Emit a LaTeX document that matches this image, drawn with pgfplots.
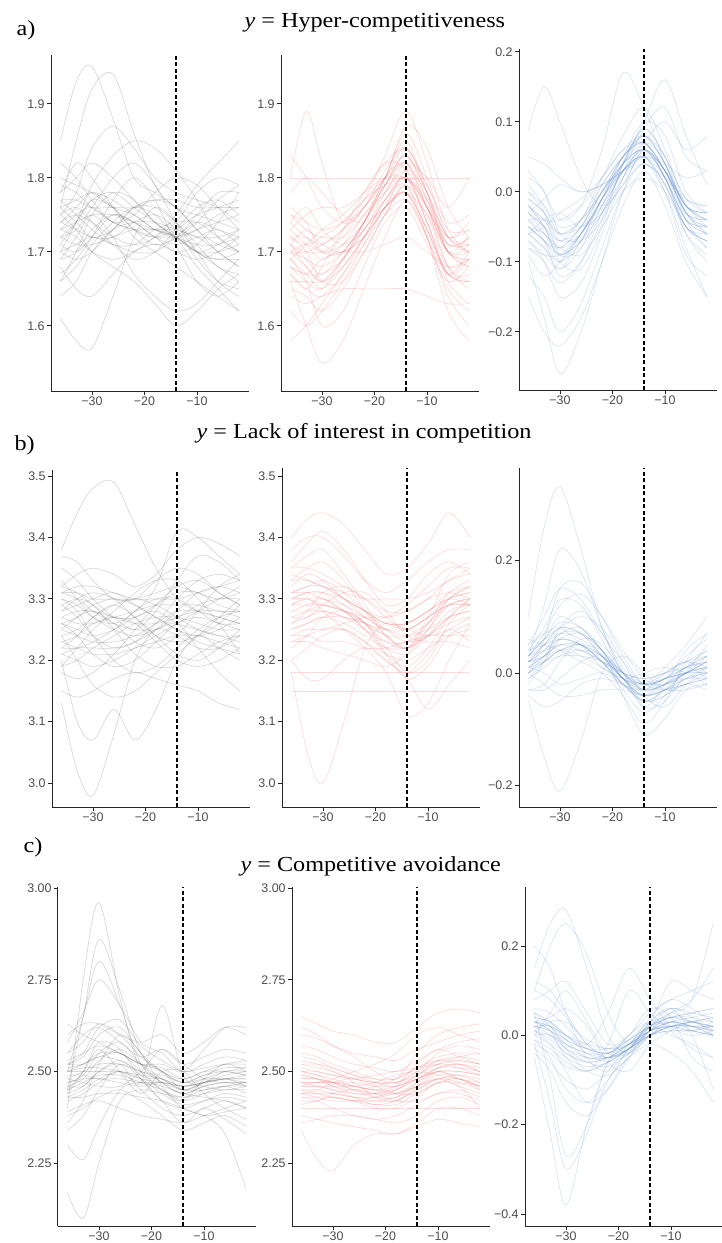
\documentclass[border=0pt]{standalone}
\usepackage{fontspec}
\setmainfont{Liberation Serif}
\newfontfamily\tickfont{Liberation Sans}
\usepackage{graphicx}
\usepackage{pgfplots}
\usepackage{pgfplotstable}
\pgfplotsset{compat=1.18}

\definecolor{gline}{RGB}{95,95,95}
\definecolor{rline}{RGB}{240,105,105}
\definecolor{bline}{RGB}{90,138,200}
\definecolor{axgray}{RGB}{77,77,77}

% ---------- data: one row per curve, columns = x positions ----------
\pgfplotstableread[header=has colnames]{
id -36 -33 -30 -26 -22 -18 -14 -10 -6 -2
1 1.85 1.93 1.95 1.88 1.80 1.78 1.76 1.73 1.70 1.68
2 1.76 1.85 1.92 1.94 1.86 1.79 1.76 1.75 1.74 1.73
3 1.61 1.58 1.57 1.64 1.72 1.76 1.74 1.70 1.66 1.64
4 1.74 1.76 1.78 1.76 1.73 1.72 1.73 1.75 1.76 1.77
5 1.70 1.71 1.72 1.71 1.70 1.70 1.72 1.74 1.73 1.72
6 1.80 1.79 1.78 1.76 1.75 1.73 1.72 1.70 1.68 1.66
7 1.66 1.68 1.71 1.74 1.76 1.75 1.72 1.68 1.65 1.62
8 1.77 1.77 1.76 1.76 1.76 1.77 1.77 1.76 1.76 1.76
9 1.72 1.73 1.76 1.80 1.82 1.79 1.74 1.70 1.69 1.70
10 1.68 1.65 1.64 1.67 1.70 1.71 1.70 1.69 1.70 1.72
11 1.75 1.78 1.84 1.87 1.84 1.80 1.78 1.77 1.76 1.74
12 1.73 1.72 1.70 1.69 1.70 1.72 1.74 1.78 1.80 1.79
13 1.78 1.82 1.80 1.76 1.72 1.70 1.68 1.66 1.64 1.62
14 1.71 1.70 1.72 1.75 1.74 1.72 1.70 1.71 1.74 1.78
15 1.64 1.66 1.70 1.73 1.74 1.74 1.73 1.72 1.70 1.68
16 1.76 1.74 1.72 1.73 1.76 1.77 1.76 1.73 1.71 1.70
17 1.69 1.72 1.75 1.72 1.67 1.64 1.62 1.63 1.66 1.69
18 1.82 1.80 1.77 1.74 1.75 1.78 1.80 1.79 1.76 1.73
19 1.72 1.74 1.77 1.78 1.76 1.74 1.72 1.73 1.75 1.76
20 1.67 1.69 1.72 1.77 1.80 1.77 1.71 1.66 1.64 1.66
21 1.74 1.75 1.74 1.72 1.71 1.72 1.75 1.79 1.82 1.85
22 1.70 1.74 1.79 1.83 1.85 1.84 1.81 1.77 1.72 1.70
23 1.75 1.73 1.70 1.68 1.66 1.63 1.60 1.62 1.65 1.67
24 1.73 1.75 1.76 1.74 1.73 1.73 1.73 1.72 1.72 1.73
25 1.76 1.77 1.78 1.77 1.75 1.73 1.72 1.74 1.77 1.79
26 1.72 1.71 1.71 1.72 1.73 1.73 1.72 1.70 1.69 1.69
27 1.79 1.78 1.76 1.74 1.73 1.72 1.72 1.73 1.74 1.75
28 1.69 1.70 1.73 1.75 1.74 1.72 1.71 1.72 1.73 1.71
29 1.74 1.73 1.72 1.72 1.74 1.75 1.73 1.69 1.66 1.65
30 1.71 1.74 1.77 1.76 1.73 1.71 1.72 1.75 1.78 1.78
31 1.77 1.75 1.73 1.71 1.71 1.73 1.74 1.74 1.72 1.70
32 1.73 1.74 1.75 1.75 1.74 1.73 1.72 1.71 1.71 1.72
33 1.66 1.70 1.75 1.78 1.77 1.74 1.72 1.70 1.70 1.71
34 1.75 1.76 1.74 1.71 1.69 1.70 1.73 1.76 1.77 1.75
35 1.70 1.69 1.70 1.73 1.76 1.76 1.74 1.71 1.68 1.67
36 1.78 1.80 1.82 1.80 1.77 1.74 1.72 1.70 1.71 1.73
}\rawAa
\pgfplotstableread[header=has colnames]{
id -36 -33 -30 -26 -22 -18 -14 -10 -6 -2
1 1.80 1.89 1.82 1.74 1.76 1.80 1.84 1.78 1.70 1.68
2 1.70 1.68 1.66 1.68 1.72 1.77 1.80 1.74 1.66 1.63
3 1.66 1.60 1.55 1.58 1.65 1.72 1.77 1.72 1.64 1.60
4 1.72 1.72 1.70 1.71 1.74 1.79 1.83 1.77 1.70 1.69
5 1.68 1.66 1.65 1.69 1.74 1.80 1.86 1.80 1.72 1.70
6 1.75 1.73 1.72 1.72 1.75 1.78 1.80 1.76 1.72 1.73
7 1.62 1.60 1.62 1.66 1.71 1.76 1.78 1.72 1.65 1.62
8 1.70 1.70 1.71 1.73 1.77 1.83 1.89 1.82 1.73 1.70
9 1.78 1.80 1.78 1.75 1.74 1.76 1.78 1.75 1.70 1.72
10 1.64 1.63 1.64 1.65 1.65 1.65 1.65 1.64 1.63 1.63
11 1.72 1.70 1.66 1.66 1.70 1.75 1.79 1.75 1.68 1.66
12 1.69 1.71 1.73 1.75 1.78 1.82 1.84 1.79 1.74 1.75
13 1.58 1.60 1.63 1.67 1.72 1.77 1.79 1.72 1.62 1.58
14 1.74 1.76 1.73 1.71 1.73 1.78 1.82 1.80 1.76 1.80
15 1.67 1.65 1.68 1.73 1.78 1.82 1.81 1.74 1.67 1.66
16 1.71 1.69 1.67 1.70 1.74 1.80 1.85 1.78 1.70 1.71
17 1.83 1.80 1.76 1.74 1.76 1.80 1.87 1.84 1.76 1.72
18 1.68 1.67 1.69 1.70 1.70 1.71 1.72 1.70 1.68 1.69
19 1.76 1.74 1.70 1.70 1.74 1.79 1.82 1.76 1.68 1.65
20 1.65 1.64 1.62 1.65 1.70 1.75 1.79 1.73 1.67 1.69
21 1.73 1.75 1.76 1.76 1.78 1.80 1.80 1.77 1.72 1.70
22 1.69 1.66 1.60 1.62 1.68 1.74 1.76 1.71 1.66 1.68
23 1.80 1.80 1.80 1.80 1.80 1.80 1.80 1.80 1.80 1.80
24 1.71 1.73 1.71 1.70 1.72 1.76 1.81 1.78 1.72 1.74
25 1.70 1.69 1.68 1.70 1.74 1.78 1.81 1.76 1.70 1.70
26 1.73 1.71 1.69 1.71 1.75 1.79 1.82 1.77 1.71 1.72
27 1.68 1.67 1.67 1.69 1.73 1.77 1.80 1.74 1.68 1.69
28 1.71 1.70 1.70 1.72 1.76 1.80 1.83 1.78 1.72 1.71
29 1.69 1.67 1.65 1.68 1.72 1.76 1.78 1.73 1.67 1.66
30 1.74 1.72 1.71 1.73 1.76 1.81 1.84 1.79 1.73 1.73
31 1.66 1.66 1.66 1.69 1.73 1.76 1.78 1.73 1.67 1.67
32 1.72 1.71 1.72 1.74 1.77 1.79 1.80 1.76 1.71 1.71
33 1.70 1.71 1.70 1.70 1.72 1.76 1.80 1.76 1.70 1.68
34 1.67 1.65 1.64 1.67 1.71 1.75 1.77 1.72 1.67 1.70
35 1.75 1.74 1.73 1.74 1.77 1.80 1.82 1.76 1.70 1.69
36 1.71 1.68 1.66 1.69 1.74 1.79 1.83 1.78 1.71 1.72
}\rawAb
\pgfplotstableread[header=has colnames]{
id -36 -33 -30 -26 -22 -18 -14 -10 -6 -2
1 0.09 0.15 0.10 0.02 -0.02 0.01 0.06 0.03 -0.02 -0.04
2 -0.10 -0.18 -0.26 -0.20 -0.10 0.00 0.06 0.02 -0.06 -0.10
3 -0.03 -0.05 -0.08 -0.06 -0.01 0.04 0.07 0.03 -0.04 -0.06
4 -0.06 -0.08 -0.11 -0.08 -0.02 0.04 0.08 0.04 -0.03 -0.06
5 0.00 -0.02 -0.05 -0.04 0.00 0.05 0.08 0.05 -0.01 -0.02
6 -0.08 -0.10 -0.13 -0.10 -0.03 0.03 0.05 0.01 -0.05 -0.08
7 -0.02 -0.04 -0.04 -0.02 0.02 0.08 0.12 0.06 -0.02 -0.04
8 0.03 0.00 -0.04 -0.02 0.06 0.17 0.12 0.04 -0.02 -0.03
9 -0.05 -0.07 -0.09 -0.07 -0.03 0.02 0.05 0.03 -0.02 -0.05
10 -0.12 -0.15 -0.20 -0.16 -0.08 0.00 0.04 0.00 -0.08 -0.15
11 -0.04 -0.04 -0.06 -0.05 -0.02 0.03 0.09 0.12 0.05 0.03
12 0.05 0.04 0.02 0.00 0.01 0.03 0.05 0.04 0.02 0.03
13 -0.07 -0.10 -0.15 -0.13 -0.06 0.02 0.07 0.04 -0.04 -0.08
14 -0.01 -0.03 -0.07 -0.06 -0.01 0.05 0.10 0.08 0.00 -0.03
15 -0.03 -0.01 0.01 0.00 0.01 0.03 0.04 0.02 -0.01 -0.02
16 -0.09 -0.12 -0.10 -0.06 -0.01 0.03 0.05 0.00 -0.09 -0.12
17 0.02 0.00 -0.06 -0.07 -0.04 0.02 0.07 0.10 0.06 0.08
18 -0.05 -0.06 -0.08 -0.09 -0.05 0.00 0.02 0.00 -0.05 -0.07
19 -0.04 -0.07 -0.12 -0.10 -0.04 0.04 0.10 0.16 0.08 0.01
20 0.00 -0.03 -0.09 -0.08 -0.03 0.03 0.06 0.02 -0.05 -0.07
21 -0.06 -0.04 -0.03 -0.05 -0.03 0.01 0.04 0.01 -0.06 -0.09
22 -0.02 -0.05 -0.10 -0.11 -0.05 0.04 0.09 0.05 -0.03 -0.05
23 -0.15 -0.20 -0.22 -0.18 -0.10 -0.02 0.03 -0.02 -0.10 -0.15
24 -0.06 -0.05 -0.03 -0.01 0.02 0.06 0.07 0.03 -0.03 -0.05
25 -0.04 -0.06 -0.08 -0.05 0.00 0.04 0.06 0.02 -0.04 -0.05
26 -0.03 -0.05 -0.07 -0.05 0.01 0.05 0.07 0.03 -0.03 -0.04
27 -0.05 -0.07 -0.10 -0.07 -0.01 0.04 0.06 0.02 -0.05 -0.06
28 -0.02 -0.04 -0.07 -0.04 0.01 0.05 0.08 0.04 -0.02 -0.03
29 -0.06 -0.08 -0.10 -0.06 0.00 0.03 0.05 0.01 -0.05 -0.07
30 -0.01 -0.03 -0.06 -0.04 0.00 0.04 0.06 0.03 -0.03 -0.04
31 -0.07 -0.09 -0.11 -0.07 -0.01 0.05 0.07 0.02 -0.04 -0.05
32 -0.03 -0.06 -0.09 -0.07 -0.02 0.03 0.05 0.02 -0.04 -0.06
33 0.01 -0.02 -0.06 -0.04 0.02 0.06 0.08 0.04 -0.02 -0.03
34 -0.05 -0.07 -0.08 -0.05 0.00 0.05 0.07 0.03 -0.02 -0.04
35 -0.02 -0.05 -0.09 -0.06 -0.01 0.04 0.09 0.05 -0.01 -0.03
36 -0.08 -0.09 -0.09 -0.06 -0.01 0.03 0.06 0.03 -0.03 -0.06
}\rawAc
\pgfplotstableread[header=has colnames]{
id -36 -33 -30 -26 -22 -18 -14 -10 -6 -2
1 3.38 3.44 3.48 3.49 3.42 3.35 3.30 3.28 3.27 3.26
2 3.13 3.02 2.98 3.08 3.20 3.25 3.24 3.22 3.22 3.24
3 3.20 3.10 3.07 3.12 3.07 3.12 3.20 3.24 3.22 3.20
4 3.31 3.31 3.30 3.30 3.30 3.31 3.32 3.31 3.30 3.31
5 3.26 3.25 3.24 3.25 3.27 3.28 3.26 3.25 3.24 3.23
6 3.21 3.20 3.19 3.20 3.22 3.24 3.26 3.28 3.30 3.32
7 3.35 3.33 3.30 3.27 3.25 3.28 3.33 3.37 3.36 3.33
8 3.28 3.29 3.30 3.31 3.29 3.27 3.25 3.24 3.25 3.27
9 3.18 3.17 3.18 3.21 3.25 3.29 3.32 3.33 3.31 3.29
10 3.23 3.24 3.26 3.27 3.26 3.23 3.20 3.19 3.20 3.22
11 3.30 3.28 3.24 3.20 3.18 3.19 3.22 3.25 3.27 3.28
12 3.32 3.34 3.35 3.34 3.32 3.34 3.38 3.40 3.39 3.37
13 3.15 3.14 3.15 3.17 3.18 3.17 3.16 3.15 3.13 3.12
14 3.25 3.27 3.28 3.26 3.23 3.22 3.24 3.28 3.32 3.34
15 3.29 3.30 3.29 3.25 3.21 3.19 3.19 3.21 3.23 3.24
16 3.22 3.22 3.23 3.25 3.28 3.30 3.30 3.28 3.26 3.26
17 3.37 3.36 3.33 3.30 3.30 3.33 3.35 3.34 3.31 3.29
18 3.26 3.24 3.21 3.19 3.20 3.23 3.26 3.27 3.26 3.25
19 3.19 3.22 3.25 3.28 3.31 3.33 3.33 3.30 3.26 3.21
20 3.27 3.26 3.26 3.27 3.28 3.29 3.29 3.29 3.28 3.28
21 3.24 3.20 3.16 3.14 3.15 3.18 3.21 3.24 3.27 3.30
22 3.31 3.30 3.28 3.26 3.25 3.25 3.26 3.22 3.18 3.15
23 3.33 3.30 3.27 3.26 3.28 3.32 3.41 3.40 3.37 3.34
24 3.22 3.24 3.27 3.29 3.27 3.24 3.21 3.20 3.22 3.25
25 3.27 3.28 3.28 3.27 3.26 3.26 3.27 3.29 3.30 3.30
26 3.30 3.29 3.27 3.25 3.24 3.25 3.27 3.28 3.28 3.27
27 3.24 3.25 3.27 3.29 3.30 3.29 3.27 3.25 3.24 3.24
28 3.21 3.22 3.22 3.22 3.23 3.25 3.28 3.31 3.32 3.31
29 3.32 3.31 3.29 3.27 3.27 3.29 3.31 3.31 3.29 3.28
30 3.25 3.24 3.23 3.23 3.24 3.26 3.28 3.28 3.27 3.26
31 3.28 3.30 3.31 3.30 3.27 3.24 3.23 3.24 3.26 3.29
32 3.23 3.22 3.21 3.21 3.22 3.23 3.24 3.24 3.23 3.22
33 3.29 3.27 3.24 3.22 3.23 3.26 3.30 3.33 3.34 3.33
34 3.26 3.27 3.29 3.30 3.29 3.27 3.25 3.23 3.22 3.21
35 3.31 3.32 3.32 3.31 3.30 3.30 3.30 3.31 3.32 3.33
36 3.19 3.20 3.22 3.24 3.26 3.27 3.27 3.26 3.25 3.25
}\rawBa
\pgfplotstableread[header=has colnames]{
id -36 -33 -30 -26 -22 -18 -14 -10 -6 -2
1 3.40 3.43 3.44 3.42 3.38 3.34 3.35 3.39 3.44 3.40
2 3.18 3.05 3.00 3.10 3.22 3.26 3.25 3.24 3.25 3.27
3 3.18 3.18 3.18 3.18 3.18 3.18 3.18 3.18 3.18 3.18
4 3.15 3.15 3.15 3.15 3.15 3.15 3.15 3.15 3.15 3.15
5 3.30 3.31 3.31 3.30 3.28 3.27 3.28 3.30 3.31 3.30
6 3.24 3.24 3.23 3.23 3.22 3.22 3.23 3.24 3.24 3.24
7 3.35 3.37 3.38 3.34 3.29 3.24 3.22 3.26 3.31 3.33
8 3.28 3.29 3.30 3.28 3.25 3.21 3.19 3.22 3.27 3.30
9 3.33 3.35 3.36 3.33 3.28 3.24 3.22 3.27 3.34 3.36
10 3.22 3.24 3.27 3.28 3.26 3.21 3.17 3.19 3.24 3.26
11 3.29 3.30 3.28 3.25 3.22 3.18 3.11 3.13 3.20 3.26
12 3.26 3.28 3.31 3.32 3.30 3.27 3.25 3.27 3.29 3.29
13 3.38 3.40 3.40 3.37 3.33 3.31 3.33 3.36 3.38 3.38
14 3.23 3.23 3.22 3.21 3.20 3.19 3.21 3.25 3.30 3.32
15 3.31 3.32 3.32 3.30 3.27 3.25 3.24 3.25 3.27 3.28
16 3.20 3.22 3.24 3.25 3.23 3.20 3.18 3.21 3.25 3.23
17 3.34 3.33 3.32 3.31 3.30 3.30 3.30 3.31 3.33 3.35
18 3.27 3.27 3.29 3.31 3.31 3.28 3.24 3.23 3.23 3.22
19 3.36 3.39 3.41 3.38 3.33 3.29 3.30 3.34 3.36 3.34
20 3.25 3.26 3.27 3.27 3.26 3.24 3.22 3.24 3.27 3.30
21 3.30 3.30 3.29 3.28 3.26 3.22 3.18 3.20 3.26 3.29
22 3.24 3.25 3.25 3.26 3.27 3.27 3.29 3.32 3.35 3.35
23 3.20 3.17 3.17 3.20 3.22 3.20 3.17 3.12 3.16 3.20
24 3.32 3.34 3.33 3.30 3.28 3.26 3.26 3.28 3.30 3.31
25 3.29 3.30 3.30 3.28 3.26 3.24 3.24 3.26 3.29 3.30
26 3.31 3.31 3.30 3.29 3.27 3.25 3.25 3.27 3.30 3.31
27 3.27 3.28 3.29 3.28 3.25 3.22 3.21 3.24 3.28 3.29
28 3.33 3.33 3.32 3.30 3.28 3.26 3.26 3.28 3.31 3.32
29 3.25 3.26 3.27 3.26 3.24 3.22 3.22 3.24 3.26 3.27
30 3.30 3.31 3.31 3.29 3.26 3.23 3.22 3.25 3.29 3.30
31 3.28 3.28 3.28 3.27 3.26 3.25 3.26 3.28 3.30 3.29
32 3.23 3.24 3.25 3.25 3.23 3.21 3.20 3.22 3.24 3.25
33 3.35 3.35 3.34 3.32 3.30 3.28 3.28 3.30 3.33 3.34
34 3.29 3.29 3.29 3.28 3.27 3.26 3.25 3.27 3.29 3.29
35 3.26 3.27 3.28 3.27 3.25 3.23 3.23 3.26 3.30 3.32
36 3.31 3.32 3.33 3.31 3.28 3.25 3.23 3.24 3.27 3.28
}\rawBb
\pgfplotstableread[header=has colnames]{
id -36 -33 -30 -26 -22 -18 -14 -10 -6 -2
1 0.10 0.26 0.33 0.22 0.08 0.00 -0.02 -0.01 0.00 0.02
2 -0.05 -0.15 -0.21 -0.12 0.00 0.03 0.00 -0.03 -0.02 0.00
3 0.03 0.12 0.22 0.18 0.08 0.00 -0.03 -0.02 0.01 0.03
4 0.02 0.05 0.08 0.07 0.03 -0.02 -0.05 -0.03 0.00 0.01
5 0.00 0.02 0.04 0.05 0.02 -0.03 -0.07 -0.04 0.01 0.04
6 0.04 0.08 0.13 0.12 0.06 -0.01 -0.04 -0.03 -0.01 0.00
7 0.02 0.02 0.03 0.03 0.02 0.00 -0.01 0.00 0.01 0.02
8 -0.03 -0.02 0.02 0.06 0.05 0.00 -0.06 -0.05 0.00 0.05
9 0.05 0.10 0.15 0.13 0.07 0.02 -0.02 -0.01 0.02 0.04
10 0.01 0.00 -0.02 -0.01 0.00 -0.02 -0.05 -0.04 -0.02 -0.03
11 0.03 0.06 0.08 0.10 0.08 0.02 -0.04 -0.06 -0.02 0.01
12 0.06 0.05 0.04 0.02 0.00 -0.04 -0.09 -0.05 0.02 0.07
13 -0.01 0.02 0.06 0.07 0.04 -0.01 -0.03 0.00 0.02 0.00
14 0.02 0.04 0.07 0.08 0.04 -0.04 -0.11 -0.08 -0.03 -0.02
15 0.00 -0.02 -0.04 -0.04 -0.03 -0.03 -0.04 -0.03 -0.02 -0.01
16 0.04 0.06 0.10 0.08 0.04 -0.01 -0.02 0.01 0.05 0.10
17 -0.02 0.02 0.08 0.11 0.07 0.01 -0.02 -0.03 -0.03 -0.02
18 0.01 0.03 0.05 0.04 0.02 0.00 -0.01 0.00 0.02 0.01
19 0.03 0.07 0.12 0.14 0.10 0.04 -0.01 -0.02 0.00 0.03
20 -0.03 -0.03 -0.01 0.02 0.03 0.00 -0.03 -0.02 0.01 -0.01
21 0.02 0.03 0.06 0.05 0.02 -0.01 -0.06 -0.02 0.04 0.07
22 0.05 0.07 0.08 0.05 0.01 -0.01 0.00 0.01 0.00 -0.02
23 0.00 0.06 0.15 0.16 0.10 0.03 -0.02 -0.01 0.00 0.00
24 -0.04 -0.06 -0.05 -0.02 -0.01 -0.02 -0.04 -0.01 0.03 0.06
25 0.02 0.04 0.06 0.05 0.02 -0.02 -0.03 -0.01 0.00 0.01
26 0.01 0.03 0.05 0.05 0.03 -0.01 -0.04 -0.02 0.00 0.00
27 0.03 0.05 0.07 0.06 0.03 -0.01 -0.02 -0.01 0.01 0.02
28 0.00 0.02 0.04 0.04 0.02 -0.02 -0.04 -0.03 -0.01 0.00
29 0.02 0.05 0.08 0.07 0.03 -0.01 -0.03 -0.02 0.00 0.02
30 0.04 0.05 0.06 0.05 0.02 -0.02 -0.05 -0.03 0.00 0.01
31 0.01 0.02 0.04 0.05 0.04 0.00 -0.03 -0.02 -0.01 -0.01
32 0.03 0.06 0.09 0.08 0.04 0.00 -0.02 -0.01 0.01 0.03
33 0.02 0.03 0.04 0.03 0.01 -0.01 -0.02 -0.02 0.00 0.02
34 -0.01 0.01 0.03 0.04 0.03 -0.01 -0.05 -0.04 -0.01 0.01
35 0.03 0.04 0.05 0.05 0.03 0.00 -0.02 0.00 0.02 0.03
36 0.00 0.03 0.07 0.07 0.04 -0.01 -0.04 -0.03 -0.02 -0.01
}\rawBc
\pgfplotstableread[header=has colnames]{
id -36 -33 -30 -26 -22 -18 -14 -10 -6 -2
1 2.40 2.75 2.96 2.70 2.50 2.48 2.45 2.47 2.48 2.46
2 2.45 2.65 2.86 2.72 2.55 2.50 2.48 2.50 2.50 2.49
3 2.50 2.65 2.80 2.68 2.52 2.47 2.44 2.46 2.47 2.47
4 2.17 2.10 2.25 2.42 2.45 2.44 2.43 2.45 2.46 2.44
5 2.30 2.26 2.35 2.45 2.47 2.46 2.44 2.43 2.42 2.40
6 2.50 2.50 2.50 2.50 2.49 2.48 2.46 2.47 2.48 2.49
7 2.55 2.60 2.62 2.58 2.54 2.56 2.52 2.54 2.56 2.55
8 2.47 2.48 2.48 2.47 2.46 2.47 2.46 2.47 2.48 2.48
9 2.42 2.44 2.47 2.50 2.45 2.40 2.38 2.40 2.42 2.40
10 2.60 2.63 2.63 2.60 2.58 2.60 2.55 2.58 2.62 2.60
11 2.38 2.40 2.43 2.45 2.42 2.38 2.34 2.36 2.38 2.35
12 2.52 2.55 2.62 2.64 2.57 2.53 2.50 2.51 2.52 2.52
13 2.46 2.46 2.50 2.52 2.47 2.68 2.49 2.46 2.45 2.46
14 2.34 2.38 2.45 2.52 2.48 2.42 2.36 2.40 2.37 2.33
15 2.63 2.60 2.58 2.55 2.52 2.50 2.45 2.47 2.50 2.50
16 2.44 2.50 2.58 2.56 2.48 2.42 2.40 2.42 2.44 2.43
17 2.48 2.47 2.46 2.46 2.50 2.56 2.52 2.48 2.47 2.47
18 2.36 2.42 2.52 2.60 2.55 2.46 2.40 2.38 2.33 2.18
19 2.52 2.52 2.55 2.55 2.52 2.52 2.50 2.56 2.62 2.62
20 2.43 2.43 2.44 2.44 2.43 2.42 2.40 2.38 2.39 2.40
21 2.58 2.66 2.75 2.68 2.58 2.55 2.50 2.52 2.54 2.53
22 2.39 2.41 2.42 2.40 2.38 2.37 2.36 2.38 2.40 2.42
23 2.50 2.52 2.54 2.55 2.50 2.45 2.42 2.48 2.52 2.50
24 2.45 2.50 2.56 2.50 2.44 2.50 2.50 2.44 2.40 2.37
25 2.48 2.50 2.52 2.52 2.50 2.48 2.46 2.47 2.48 2.48
26 2.46 2.48 2.53 2.56 2.52 2.48 2.45 2.45 2.46 2.47
27 2.51 2.52 2.54 2.53 2.50 2.49 2.47 2.49 2.51 2.51
28 2.44 2.46 2.50 2.53 2.49 2.45 2.43 2.44 2.45 2.45
29 2.53 2.55 2.57 2.55 2.52 2.51 2.48 2.50 2.52 2.53
30 2.47 2.49 2.55 2.58 2.52 2.47 2.44 2.46 2.47 2.46
31 2.50 2.51 2.51 2.50 2.48 2.47 2.45 2.47 2.49 2.50
32 2.45 2.47 2.49 2.49 2.47 2.45 2.42 2.44 2.46 2.46
33 2.55 2.58 2.63 2.60 2.54 2.50 2.47 2.49 2.50 2.49
34 2.49 2.49 2.48 2.48 2.47 2.47 2.46 2.48 2.50 2.51
35 2.43 2.45 2.48 2.50 2.48 2.44 2.41 2.42 2.43 2.42
36 2.52 2.54 2.60 2.62 2.55 2.50 2.47 2.48 2.48 2.47
}\rawCa
\pgfplotstableread[header=has colnames]{
id -36 -33 -30 -26 -22 -18 -14 -10 -6 -2
1 2.65 2.63 2.61 2.60 2.58 2.58 2.62 2.66 2.67 2.66
2 2.34 2.26 2.23 2.30 2.33 2.33 2.35 2.37 2.36 2.35
3 2.40 2.40 2.40 2.40 2.40 2.40 2.40 2.40 2.40 2.40
4 2.48 2.48 2.47 2.46 2.45 2.46 2.48 2.50 2.50 2.49
5 2.55 2.54 2.52 2.50 2.48 2.47 2.50 2.55 2.57 2.56
6 2.44 2.43 2.42 2.42 2.43 2.45 2.48 2.50 2.48 2.46
7 2.60 2.59 2.57 2.54 2.50 2.48 2.55 2.60 2.62 2.63
8 2.42 2.42 2.44 2.45 2.44 2.42 2.42 2.44 2.45 2.43
9 2.50 2.50 2.49 2.48 2.49 2.50 2.51 2.52 2.53 2.52
10 2.38 2.37 2.36 2.35 2.34 2.33 2.36 2.40 2.40 2.38
11 2.52 2.51 2.50 2.47 2.43 2.42 2.46 2.50 2.48 2.46
12 2.46 2.46 2.46 2.46 2.47 2.49 2.50 2.49 2.48 2.47
13 2.57 2.56 2.54 2.52 2.51 2.50 2.53 2.56 2.58 2.59
14 2.44 2.45 2.47 2.48 2.46 2.44 2.44 2.47 2.48 2.45
15 2.36 2.37 2.38 2.38 2.37 2.36 2.38 2.42 2.43 2.41
16 2.49 2.48 2.46 2.44 2.44 2.46 2.52 2.56 2.54 2.52
17 2.62 2.60 2.57 2.55 2.54 2.53 2.56 2.58 2.60 2.61
18 2.45 2.44 2.43 2.42 2.42 2.43 2.46 2.48 2.46 2.44
19 2.41 2.42 2.43 2.42 2.40 2.40 2.43 2.47 2.46 2.40
20 2.53 2.52 2.50 2.48 2.47 2.47 2.49 2.52 2.54 2.55
21 2.47 2.47 2.48 2.50 2.52 2.55 2.60 2.62 2.60 2.58
22 2.43 2.42 2.40 2.38 2.37 2.38 2.41 2.44 2.44 2.42
23 2.50 2.49 2.47 2.45 2.43 2.43 2.47 2.51 2.52 2.50
24 2.46 2.46 2.45 2.43 2.41 2.42 2.45 2.48 2.47 2.45
25 2.48 2.48 2.47 2.45 2.44 2.44 2.47 2.50 2.50 2.49
26 2.50 2.49 2.48 2.46 2.45 2.45 2.48 2.51 2.52 2.51
27 2.45 2.45 2.44 2.43 2.43 2.44 2.46 2.49 2.49 2.47
28 2.52 2.52 2.51 2.49 2.47 2.46 2.49 2.53 2.54 2.53
29 2.47 2.46 2.45 2.44 2.44 2.45 2.49 2.52 2.51 2.49
30 2.44 2.44 2.44 2.43 2.42 2.42 2.45 2.48 2.48 2.46
31 2.51 2.50 2.49 2.48 2.47 2.47 2.50 2.53 2.53 2.52
32 2.46 2.47 2.47 2.46 2.45 2.44 2.46 2.48 2.49 2.48
33 2.49 2.48 2.46 2.45 2.46 2.48 2.51 2.53 2.52 2.50
34 2.43 2.43 2.43 2.42 2.41 2.41 2.44 2.47 2.47 2.46
35 2.54 2.53 2.51 2.49 2.48 2.48 2.51 2.54 2.55 2.55
36 2.47 2.47 2.47 2.47 2.46 2.46 2.48 2.51 2.51 2.50
}\rawCb
\pgfplotstableread[header=has colnames]{
id -36 -33 -30 -26 -22 -18 -14 -10 -6 -2
1 0.15 0.25 0.28 0.15 0.00 -0.04 0.00 0.03 0.04 0.05
2 0.10 0.20 0.25 0.18 0.05 -0.02 0.02 0.05 0.03 0.02
3 -0.05 -0.22 -0.38 -0.20 -0.06 -0.03 0.00 0.02 0.02 0.00
4 -0.02 -0.15 -0.30 -0.22 -0.10 -0.05 0.00 0.03 0.01 0.00
5 0.05 -0.10 -0.27 -0.20 -0.06 0.00 0.03 0.02 0.01 0.03
6 0.02 0.02 0.00 -0.03 -0.05 -0.03 0.01 0.03 0.02 0.02
7 0.04 0.03 0.00 -0.04 -0.06 -0.04 0.00 0.02 0.03 0.04
8 0.00 0.00 -0.03 -0.06 -0.07 -0.04 0.01 0.04 0.03 0.01
9 0.08 0.10 0.12 0.05 -0.02 0.00 0.05 0.08 0.10 0.12
10 -0.03 -0.06 -0.10 -0.12 -0.08 -0.02 0.02 0.00 -0.02 -0.05
11 0.20 0.15 0.05 -0.05 -0.08 -0.03 0.02 0.05 0.08 0.25
12 0.01 -0.02 -0.08 -0.15 -0.12 -0.05 0.02 0.06 0.04 0.00
13 0.03 0.01 -0.05 -0.08 -0.02 0.10 0.05 0.01 -0.03 -0.05
14 0.06 0.05 0.02 -0.02 0.05 0.15 0.08 0.02 0.00 0.01
15 -0.01 -0.05 -0.12 -0.15 -0.10 -0.03 0.02 0.04 0.05 0.06
16 0.02 0.00 -0.04 -0.06 -0.05 -0.02 0.03 0.12 0.10 0.08
17 0.10 0.08 0.04 -0.02 -0.05 -0.03 0.03 0.06 0.00 -0.12
18 -0.02 -0.04 -0.07 -0.08 -0.06 -0.03 0.00 0.01 0.01 0.00
19 0.00 0.05 0.10 0.03 -0.04 -0.04 0.01 0.05 0.08 0.15
20 0.05 0.02 -0.03 -0.08 -0.09 -0.05 -0.02 -0.04 -0.08 -0.15
21 0.03 0.04 0.06 0.02 -0.06 -0.08 -0.02 0.01 0.03 0.01
22 -0.04 -0.08 -0.15 -0.18 -0.12 -0.04 0.03 0.06 0.05 0.04
23 0.01 0.03 0.03 -0.01 -0.03 -0.02 0.04 0.08 0.06 0.03
24 0.12 0.10 0.05 -0.02 -0.04 0.00 0.06 0.04 -0.05 -0.08
25 0.02 0.01 -0.02 -0.04 -0.04 -0.02 0.01 0.02 0.02 0.02
26 0.03 0.02 -0.01 -0.03 -0.03 -0.01 0.02 0.03 0.02 0.01
27 0.01 -0.01 -0.04 -0.06 -0.05 -0.02 0.01 0.03 0.03 0.02
28 0.04 0.03 0.00 -0.03 -0.04 -0.02 0.02 0.04 0.04 0.03
29 0.00 -0.02 -0.05 -0.07 -0.06 -0.03 0.00 0.02 0.02 0.01
30 0.02 0.02 0.00 -0.02 -0.03 -0.02 0.01 0.02 0.03 0.04
31 0.03 0.01 -0.03 -0.05 -0.05 -0.03 0.01 0.03 0.02 0.00
32 0.01 0.00 -0.02 -0.04 -0.05 -0.03 0.00 0.01 0.01 0.02
33 0.05 0.03 -0.01 -0.05 -0.04 -0.01 0.02 0.04 0.05 0.06
34 -0.01 -0.03 -0.06 -0.08 -0.06 -0.03 0.01 0.02 0.01 0.00
35 0.02 0.01 -0.01 -0.03 -0.04 -0.01 0.03 0.04 0.03 0.02
36 0.03 0.02 -0.02 -0.05 -0.05 -0.02 0.00 0.02 0.03 0.03
}\rawCc

\pgfplotstabletranspose[colnames from=id]{\tabAa}{\rawAa}
\pgfplotstabletranspose[colnames from=id]{\tabAb}{\rawAb}
\pgfplotstabletranspose[colnames from=id]{\tabAc}{\rawAc}
\pgfplotstabletranspose[colnames from=id]{\tabBa}{\rawBa}
\pgfplotstabletranspose[colnames from=id]{\tabBb}{\rawBb}
\pgfplotstabletranspose[colnames from=id]{\tabBc}{\rawBc}
\pgfplotstabletranspose[colnames from=id]{\tabCa}{\rawCa}
\pgfplotstabletranspose[colnames from=id]{\tabCb}{\rawCb}
\pgfplotstabletranspose[colnames from=id]{\tabCc}{\rawCc}

\pgfplotsset{
  panel/.style={
    scale only axis, anchor=south west, width=198bp,
    axis lines=left, axis line style={-, line width=1bp, black!85},
    every tick/.style={line width=0.9bp, black!85},
    tick align=outside, major tick length=4bp,
    xmin=-37.8, xmax=-0.1,
    xtick={-30,-20,-10}, xticklabels={−30,−20,−10},
    ticklabel style={font={\tickfont\fontsize{12.5}{14}\selectfont}, text=axgray},
    xticklabel style={inner sep=1.2bp},
    yticklabel style={inner sep=2.2bp},
    clip=true,
  },
  curve/.style={smooth, tension=0.55, line width=0.7bp, no markers},
  gcurve/.style={curve, gline, opacity=0.24},
  rcurve/.style={curve, rline, opacity=0.24},
  bcurve/.style={curve, bline, opacity=0.22},
  vl/.style={black, line width=1.1bp, dash pattern=on 4bp off 2.5bp},
}
\newcommand{\ttl}[1]{\fontsize{21.5}{24}\selectfont\scalebox{1.13}[1]{#1}}

\begin{document}
\begin{tikzpicture}
\useasboundingbox (0,0) rectangle (722bp,-1243bp);

% ---------------- row a ----------------
\node[anchor=base west] at (13bp,-35bp) {\ttl{a)}};
\node[anchor=base west] at (241bp,-27bp) {\ttl{\textit{y} = Hyper-competitiveness}};

\begin{axis}[panel, at={(51bp,-391bp)}, height=336bp, ymin=1.512, ymax=1.966,
  ytick={1.6,1.7,1.8,1.9}, yticklabels={1.6,1.7,1.8,1.9}]
\pgfplotsinvokeforeach{1,...,36}{\addplot[gcurve] table[x=colnames, y index=#1]{\tabAa};}
\addplot[vl] coordinates {(-14,1.512) (-14,1.966)};
\end{axis}

\begin{axis}[panel, at={(281bp,-391bp)}, height=336bp, ymin=1.512, ymax=1.966,
  ytick={1.6,1.7,1.8,1.9}, yticklabels={1.6,1.7,1.8,1.9}]
\pgfplotsinvokeforeach{1,...,36}{\addplot[rcurve] table[x=colnames, y index=#1]{\tabAb};}
\addplot[vl] coordinates {(-14,1.512) (-14,1.966)};
\end{axis}

\begin{axis}[panel, at={(519bp,-390bp)}, height=341bp, ymin=-0.283, ymax=0.204,
  ytick={-0.2,-0.1,0,0.1,0.2}, yticklabels={−0.2,−0.1,0.0,0.1,0.2}]
\pgfplotsinvokeforeach{1,...,36}{\addplot[bcurve] table[x=colnames, y index=#1]{\tabAc};}
\addplot[vl] coordinates {(-14,-0.283) (-14,0.204)};
\end{axis}

% ---------------- row b ----------------
\node[anchor=base west] at (11bp,-450bp) {\ttl{b)}};
\node[anchor=base west] at (193bp,-438bp) {\ttl{\textit{y} = Lack of interest in competition}};

\begin{axis}[panel, at={(52bp,-807bp)}, height=337bp, ymin=2.961, ymax=3.510,
  ytick={3.0,3.1,3.2,3.3,3.4,3.5}, yticklabels={3.0,3.1,3.2,3.3,3.4,3.5}]
\pgfplotsinvokeforeach{1,...,36}{\addplot[gcurve] table[x=colnames, y index=#1]{\tabBa};}
\addplot[vl] coordinates {(-14,2.961) (-14,3.510)};
\end{axis}

\begin{axis}[panel, at={(282bp,-807bp)}, height=339bp, ymin=2.961, ymax=3.513,
  ytick={3.0,3.1,3.2,3.3,3.4,3.5}, yticklabels={3.0,3.1,3.2,3.3,3.4,3.5}]
\pgfplotsinvokeforeach{1,...,36}{\addplot[rcurve] table[x=colnames, y index=#1]{\tabBb};}
\addplot[vl] coordinates {(-14,2.961) (-14,3.513)};
\end{axis}

\begin{axis}[panel, at={(519bp,-807bp)}, height=339bp, ymin=-0.238, ymax=0.364,
  ytick={-0.2,0,0.2}, yticklabels={−0.2,0.0,0.2}]
\pgfplotsinvokeforeach{1,...,36}{\addplot[bcurve] table[x=colnames, y index=#1]{\tabBc};}
\addplot[vl] coordinates {(-14,-0.238) (-14,0.364)};
\end{axis}

% ---------------- row c ----------------
\node[anchor=base west] at (20bp,-852bp) {\ttl{c)}};
\node[anchor=base west] at (237bp,-871bp) {\ttl{\textit{y} = Competitive avoidance}};

\begin{axis}[panel, at={(58bp,-1226bp)}, height=339bp, ymin=2.079, ymax=3.003,
  ytick={2.25,2.5,2.75,3.0}, yticklabels={2.25,2.50,2.75,3.00}]
\pgfplotsinvokeforeach{1,...,36}{\addplot[gcurve] table[x=colnames, y index=#1]{\tabCa};}
\addplot[vl] coordinates {(-14,2.079) (-14,3.003)};
\end{axis}

\begin{axis}[panel, at={(292bp,-1226bp)}, height=339bp, ymin=2.079, ymax=3.003,
  ytick={2.25,2.5,2.75,3.0}, yticklabels={2.25,2.50,2.75,3.00}]
\pgfplotsinvokeforeach{1,...,36}{\addplot[rcurve] table[x=colnames, y index=#1]{\tabCb};}
\addplot[vl] coordinates {(-14,2.079) (-14,3.003)};
\end{axis}

\begin{axis}[panel, at={(525bp,-1226bp)}, height=339bp, ymin=-0.427, ymax=0.332,
  ytick={-0.4,-0.2,0,0.2}, yticklabels={−0.4,−0.2,0.0,0.2}]
\pgfplotsinvokeforeach{1,...,36}{\addplot[bcurve] table[x=colnames, y index=#1]{\tabCc};}
\addplot[vl] coordinates {(-14,-0.427) (-14,0.332)};
\end{axis}
\end{tikzpicture}
\end{document}
